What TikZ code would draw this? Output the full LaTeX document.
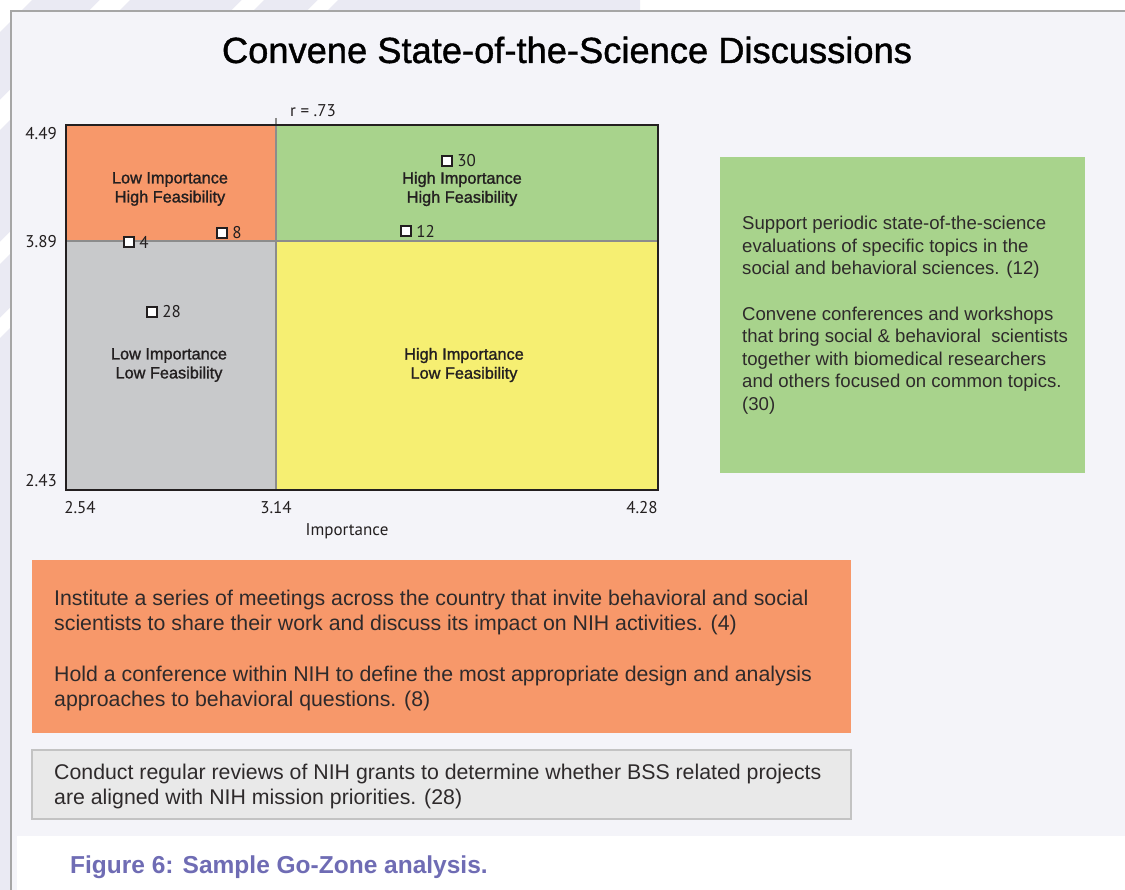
\documentclass[tikz,border=0pt]{standalone}
\usepackage{fontspec}
\usetikzlibrary{positioning}
\setmainfont{Liberation Sans}
\newfontfamily\axisfont{PT Sans}
\newfontfamily\zonefont{Liberation Sans}[FakeBold=1.3]
\newfontfamily\titlefont{Liberation Sans}[FakeBold=1.1]
\definecolor{pagelav}{HTML}{EAEAF3}
\definecolor{panelbg}{HTML}{F4F4F9}
\definecolor{panelline}{HTML}{A6A6A6}
\definecolor{lowhigh}{HTML}{F7986A}
\definecolor{highhigh}{HTML}{A8D38C}
\definecolor{lowlow}{HTML}{C8C9CB}
\definecolor{highlow}{HTML}{F6EF72}
\definecolor{divline}{HTML}{8C8C8C}
\definecolor{inkdark}{HTML}{231F20}
\definecolor{notegray}{HTML}{E9E9E9}
\definecolor{notegrayline}{HTML}{C3C3C3}
\definecolor{capblue}{HTML}{6F6CB4}
\tikzset{
	zonelabel/.style={align=center, text=inkdark, font=\zonefont\fontsize{16.3}{19}\selectfont, inner sep=0pt},
	axislabel/.style={text=inkdark, font=\axisfont\fontsize{17}{20}\selectfont, inner sep=0pt},
	itemmark/.style={rectangle, draw=inkdark, fill=white, line width=1.2pt, minimum size=10pt, inner sep=0pt},
	itemnum/.style={axislabel, font=\axisfont\fontsize{17}{20}\selectfont},
	notetext/.style={anchor=north west, align=left, text=inkdark!95, inner sep=0pt}
}
\begin{document}
\begin{tikzpicture}[x=1pt, y=-1pt]
	\useasboundingbox (0,0) rectangle (1125,890);
	\fill[white] (0,0) rectangle (1125,890);
	\fill[pagelav] (0,0) -- (640,0) -- (640,11) -- (11,11) -- (11,890) -- (0,890) -- cycle;
	\foreach \ca/\cb in {0/32, 100/130, 242/264, 318/338}
		\fill[white] (\ca,0) -- (\cb,0) -- (0,\cb) -- (0,\ca) -- cycle;
	\fill[panelbg] (11,11) rectangle (1125,890);
	\fill[white] (17,836) rectangle (1125,890);
	\draw[panelline, line width=1.6pt] (11,890) -- (11,11) -- (1125,11);
	\node[font=\titlefont\fontsize{36.3}{40}\selectfont, text=black, inner sep=0pt](title) at (567,50){Convene State-of-the-Science Discussions};
	\fill[lowhigh] (66,125) rectangle (276,241);
	\fill[highhigh] (276,125) rectangle (658,241);
	\fill[lowlow] (66,241) rectangle (276,490);
	\fill[highlow] (276,241) rectangle (658,490);
	\draw[divline, line width=2pt] (276,118) -- (276,490);
	\draw[divline, line width=2pt] (66,241) -- (658,241);
	\draw[inkdark, line width=2.6pt] (66,125) rectangle (658,490);
	\node[axislabel](rval) at (313,111){r = .73};
	\node[axislabel, anchor=east](y449) at (57,134){4.49};
	\node[axislabel, anchor=east](y389) at (57,242){3.89};
	\node[axislabel, anchor=east](y243) at (57,481){2.43};
	\node[axislabel](x254) at (80,508){2.54};
	\node[axislabel](x314) at (276,508){3.14};
	\node[axislabel](x428) at (642,508){4.28};
	\node[axislabel](xname) at (347,531){Importance};
	\node[zonelabel](zlh) at (170,189){Low Importance\\High Feasibility};
	\node[zonelabel](zhh) at (462,189){High Importance\\High Feasibility};
	\node[zonelabel](zll) at (169,365){Low Importance\\Low Feasibility};
	\node[zonelabel](zhl) at (464,365){High Importance\\Low Feasibility};
	\node[itemmark](p30) at (447,161){};
	\node[itemmark](p12) at (406,231){};
	\node[itemmark](p8) at (222,233){};
	\node[itemmark](p4) at (129,242){};
	\node[itemmark](p28) at (152,312){};
	\node[itemnum, right=4.5pt of p30](n30){30};
	\node[itemnum, right=4.5pt of p12](n12){12};
	\node[itemnum, right=4.5pt of p8](n8){8};
	\node[itemnum, right=4.5pt of p4](n4){4};
	\node[itemnum, right=4.5pt of p28](n28){28};
	\fill[highhigh] (720,157) rectangle (1085,473);
	\node[notetext, font=\fontsize{18.6}{22.6}\selectfont](greennote) at (742,216){Support periodic state-of-the-science\\evaluations of specific topics in the\\social and behavioral sciences. (12)\\[22.6pt]Convene conferences and workshops\\that bring social \& behavioral\ \ scientists\\together with biomedical researchers\\and others focused on common topics.\\(30)};
	\fill[lowhigh] (32,560) rectangle (851,733);
	\node[notetext, font=\fontsize{21.3}{25.3}\selectfont](orangenote) at (54,590){Institute a series of meetings across the country that invite behavioral and social\\scientists to share their work and discuss its impact on NIH activities. (4)\\[25.3pt]Hold a conference within NIH to define the most appropriate design and analysis\\approaches to behavioral questions. (8)};
	\draw[notegrayline, fill=notegray, line width=2pt] (32,750) rectangle (851,819);
	\node[notetext, font=\fontsize{21.3}{25.3}\selectfont](graynote) at (54,764){Conduct regular reviews of NIH grants to determine whether BSS related projects\\are aligned with NIH mission priorities. (28)};
	\node[anchor=west, text=capblue, font=\bfseries\fontsize{24.5}{28}\selectfont, inner sep=0pt](caption) at (70,867){Figure 6: Sample Go-Zone analysis.};
\end{tikzpicture}
\end{document}
